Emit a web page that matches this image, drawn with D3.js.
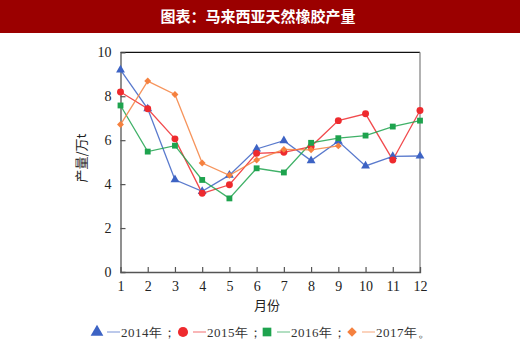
<!DOCTYPE html>
<html><head><meta charset="utf-8">
<script src="https://cdn.jsdelivr.net/npm/d3@7"></script>
<style>body{margin:0;background:#fff}svg{display:block}</style>
</head><body>
<svg id="c" width="520" height="345"></svg>
<script>
const title = "图表：马来西亚天然橡胶产量";
const months = [1,2,3,4,5,6,7,8,9,10,11,12];
const yTicks = [0,2,4,6,8,10];
const s2014 = [9.2,7.43,4.2,3.67,4.41,5.6,5.98,5.07,5.95,4.83,5.26,5.28];
const s2015 = [8.19,7.43,6.06,3.58,3.97,5.4,5.45,5.71,6.89,7.2,5.1,7.35];
const s2016 = [7.58,5.48,5.75,4.19,3.35,4.72,4.53,5.88,6.09,6.21,6.62,6.89];
const s2017 = [6.71,8.69,8.08,4.96,4.4,5.1,5.58,5.56,5.74];
const seriesNames = ["2014年；","2015年；","2016年；","2017年。"];
const colors = ["#3d63c4","#ee2a2e","#1ea34e","#f5813f"];
const shapes = ["triangle","circle","square","diamond"];
const yLabel = "产量/万t";
const xLabel = "月份";

const svg = d3.select("#c");
svg.append("rect").attr("x",0).attr("y",0).attr("width",520).attr("height",33).attr("fill","#9b0000");
svg.append("text").attr("x",258).attr("y",22).attr("text-anchor","middle")
  .attr("fill","#fff").attr("font-family","Noto Sans CJK SC").attr("font-weight","bold")
  .attr("font-size",15).text(title);

const L=120.5,R=420,T=52.3,B=272;
const x = d3.scaleLinear().domain([1,12]).range([L,R]);
const y = d3.scaleLinear().domain([0,10]).range([B,T]);
const serif = "Liberation Serif";

// frame
svg.append("line").attr("x1",L).attr("x2",R).attr("y1",T).attr("y2",T).attr("stroke","#111").attr("stroke-width",1.3);
svg.append("line").attr("x1",R).attr("x2",R).attr("y1",T).attr("y2",B).attr("stroke","#888").attr("stroke-width",1.3);

const xAxis = svg.append("g").attr("transform",`translate(0,${B})`)
  .call(d3.axisBottom(x).tickValues(months).tickSize(-5).tickPadding(9).tickFormat(d3.format("d")));
const yAxis = svg.append("g").attr("transform",`translate(${L},0)`)
  .call(d3.axisLeft(y).tickValues(yTicks).tickSize(-5).tickPadding(9).tickFormat(d3.format("d")));
[xAxis,yAxis].forEach(a=>{
  a.select(".domain").attr("stroke","#555").attr("stroke-width",1.3);
  a.selectAll(".tick line").attr("stroke","#555").attr("stroke-width",1.2);
  a.selectAll("text").attr("font-family",serif).attr("font-size",14).attr("fill","#222");
});
xAxis.selectAll(".tick line").filter(d=>d===1||d===12).remove();
yAxis.selectAll(".tick line").filter(d=>d===0||d===10).remove();

svg.append("text").attr("transform","translate(86,158) rotate(-90)").attr("text-anchor","middle")
  .attr("font-family","Noto Sans CJK SC").attr("font-size",13).attr("fill","#222").text(yLabel);
svg.append("text").attr("x",267).attr("y",310).attr("text-anchor","middle")
  .attr("font-family","Noto Sans CJK SC").attr("font-size",13).attr("fill","#222").text(xLabel);

const symType = {triangle:d3.symbolTriangle,circle:d3.symbolCircle,square:d3.symbolSquare,diamond:d3.symbolSquare};
const symSize = {triangle:34,circle:38,square:34,diamond:24};
const rot = {triangle:0,circle:0,square:0,diamond:45};
const all = [s2014,s2015,s2016,s2017];
const line = d3.line().x((d,i)=>x(months[i])).y(d=>y(d));
all.forEach((s,k)=>{
  svg.append("path").attr("d",line(s)).attr("fill","none").attr("stroke",colors[k]).attr("stroke-width",1.3).attr("opacity",0.85);
});
all.forEach((s,k)=>{
  svg.append("g").selectAll("path").data(s).join("path")
    .attr("transform",(d,i)=>`translate(${x(months[i])},${y(d)}) rotate(${rot[shapes[k]]})`)
    .attr("d",d3.symbol().type(symType[shapes[k]]).size(symSize[shapes[k]]))
    .attr("fill",colors[k]);
});

// legend
const legX = [97,183,267,352];
const legY = 332;
seriesNames.forEach((n,k)=>{
  const g = svg.append("g");
  const sz = shapes[k]==="triangle"?70:shapes[k]==="circle"?80:shapes[k]==="square"?75:45;
  g.append("path").attr("transform",`translate(${legX[k]},${legY}) rotate(${rot[shapes[k]]})`)
    .attr("d",d3.symbol().type(symType[shapes[k]]).size(sz)).attr("fill",colors[k]);
  g.append("line").attr("x1",legX[k]+10).attr("x2",legX[k]+23).attr("y1",legY).attr("y2",legY)
    .attr("stroke",colors[k]).attr("stroke-width",1.5).attr("opacity",0.45);
  g.append("text").attr("x",legX[k]+24).attr("y",legY+5).attr("font-family",serif).attr("font-size",13)
    .attr("fill","#333").attr("letter-spacing",0.5).text(n);
});
</script>
</body></html>
